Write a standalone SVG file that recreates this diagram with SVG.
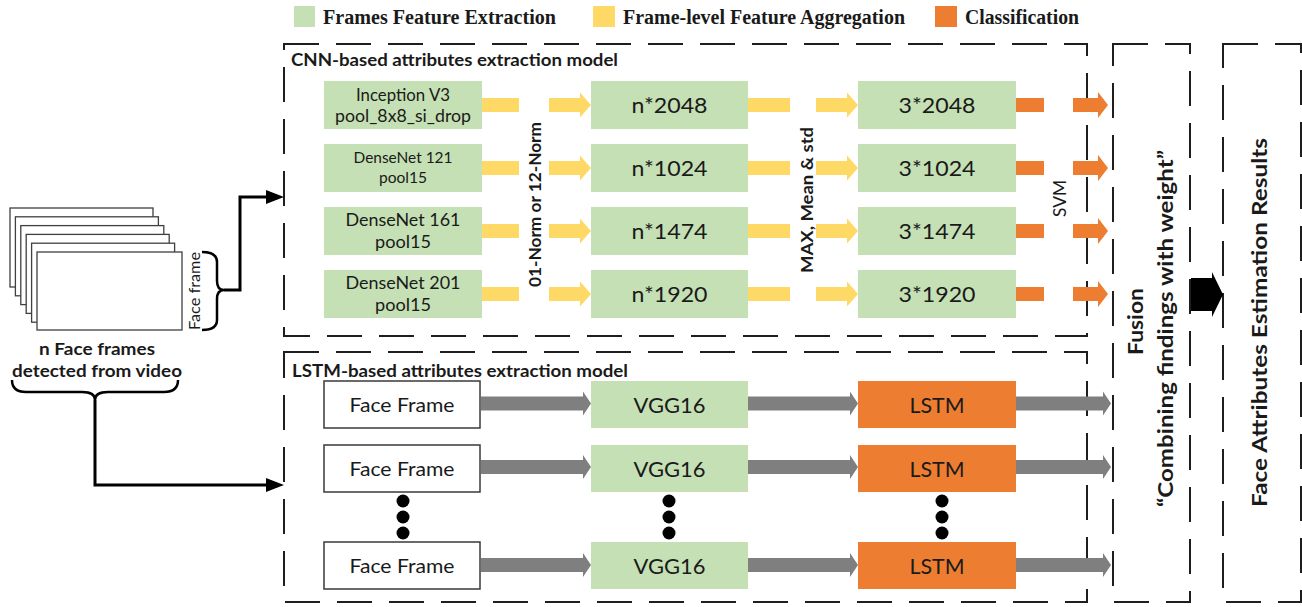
<svg xmlns="http://www.w3.org/2000/svg" width="1302" height="607" viewBox="0 0 1302 607">
<defs>
<style>
 .dash{fill:none;stroke:#1e1e1e;stroke-width:2;stroke-dasharray:35 17}
 .gbox{fill:#C5E0B4}
 .obox{fill:#ED7D31}
 .wbox{fill:#fff;stroke:#3a3a3a;stroke-width:1.5}
 .frm{fill:#fff;stroke:#404040;stroke-width:1.3}
 .yel{fill:#FFD966}
 .org{fill:#ED7D31}
 .gry{fill:#7F7F7F}
 .conn{fill:none;stroke:#000;stroke-width:3}
 .brace{fill:none;stroke:#000;stroke-width:2.5}
 .t{font-family:Lato,"Open Sans","Noto Sans",sans-serif;fill:#1a1a1a;text-anchor:middle}
 .b{font-weight:bold}
 .lg{font-family:"Liberation Serif","Times New Roman",serif;font-weight:bold;font-size:20.5px;fill:#1a1a1a}
 .dot{fill:#000}
</style>
<marker id="ah" markerUnits="userSpaceOnUse" markerWidth="18" markerHeight="14" refX="10" refY="7" orient="auto"><path d="M0,0 L18,7 L0,14 Z" fill="#000"/></marker>
<path id="ya" d="M0,-7 H31 V-12.5 L42,0 L31,12.5 V7 H0 Z"/>
<path id="oa" d="M0,-7 H25 V-13 L35,0 L25,13 V7 H0 Z"/>
<path id="ga" d="M0,-7 H102 V-12 L110,0 L102,12 V7 H0 Z"/>
<path id="ga2" d="M0,-7 H87 V-12 L95,0 L87,12 V7 H0 Z"/>
</defs>
<rect width="1302" height="607" fill="#fff"/>

<g id="legend">
 <rect x="294" y="6" width="21" height="21" class="gbox"/>
 <text x="323" y="24" class="lg" textLength="233" lengthAdjust="spacingAndGlyphs">Frames Feature Extraction</text>
 <rect x="593" y="6" width="22" height="21" class="yel"/>
 <text x="623" y="24" class="lg" textLength="282" lengthAdjust="spacingAndGlyphs">Frame-level Feature Aggregation</text>
 <rect x="935" y="6" width="22" height="21" class="org"/>
 <text x="965" y="24" class="lg" textLength="114" lengthAdjust="spacingAndGlyphs">Classification</text>
</g>

<g id="face-frames">
 <rect x="10" y="208" width="143" height="79" class="frm"/>
 <rect x="15.4" y="216.8" width="143" height="79" class="frm"/>
 <rect x="20.8" y="225.6" width="143" height="79" class="frm"/>
 <rect x="26.2" y="234.4" width="143" height="79" class="frm"/>
 <rect x="31.6" y="243.2" width="143" height="79" class="frm"/>
 <rect x="37" y="252" width="145" height="78" class="frm"/>
 <text transform="translate(200,291) rotate(-90)" class="t" font-size="14.5" textLength="78" lengthAdjust="spacingAndGlyphs">Face frame</text>
 <path class="brace" d="M202,252 Q217,252 217,262 V281 Q217,290 224,290 Q217,290 217,299 V320 Q217,330 202,330"/>
 <text x="97" y="355" class="t b" font-size="17.5" textLength="116" lengthAdjust="spacingAndGlyphs">n Face frames</text>
 <text x="97" y="377" class="t b" font-size="17.5" textLength="170" lengthAdjust="spacingAndGlyphs">detected from video</text>
 <path class="brace" d="M12,380 Q12,392 26,392 H82 Q95,392 95,400 Q95,392 108,392 H164 Q178,392 178,380"/>
</g>

<g id="cnn-model">
 <rect x="284" y="44" width="803" height="292" class="dash"/>
 <text x="291" y="66" class="t b" font-size="16.5" style="text-anchor:start" textLength="327" lengthAdjust="spacingAndGlyphs">CNN-based attributes extraction model</text>
</g>

<g id="cnn-backbones">
 <rect x="324" y="81" width="158" height="48" class="gbox"/>
 <text x="403" y="101" class="t" font-size="16.5" textLength="94" lengthAdjust="spacingAndGlyphs">Inception V3</text>
 <text x="403" y="122" class="t" font-size="16.5" textLength="136" lengthAdjust="spacingAndGlyphs">pool_8x8_si_drop</text>
 <rect x="324" y="144" width="158" height="48" class="gbox"/>
 <text x="403" y="163" class="t" font-size="15" textLength="99" lengthAdjust="spacingAndGlyphs">DenseNet 121</text>
 <text x="403" y="183" class="t" font-size="15" textLength="48" lengthAdjust="spacingAndGlyphs">pool15</text>
 <rect x="324" y="207" width="158" height="48" class="gbox"/>
 <text x="403" y="226" class="t" font-size="18" textLength="115" lengthAdjust="spacingAndGlyphs">DenseNet 161</text>
 <text x="403" y="248" class="t" font-size="18" textLength="56" lengthAdjust="spacingAndGlyphs">pool15</text>
 <rect x="324" y="270" width="158" height="48" class="gbox"/>
 <text x="403" y="289" class="t" font-size="18" textLength="115" lengthAdjust="spacingAndGlyphs">DenseNet 201</text>
 <text x="403" y="311" class="t" font-size="18" textLength="56" lengthAdjust="spacingAndGlyphs">pool15</text>
</g>

<g id="frame-features">
 <rect x="591" y="81" width="157" height="48" class="gbox"/>
 <text x="669.5" y="113" class="t" font-size="22" textLength="76" lengthAdjust="spacingAndGlyphs">n*2048</text>
 <rect x="591" y="144" width="157" height="48" class="gbox"/>
 <text x="669.5" y="176" class="t" font-size="22" textLength="76" lengthAdjust="spacingAndGlyphs">n*1024</text>
 <rect x="591" y="207" width="157" height="48" class="gbox"/>
 <text x="669.5" y="239" class="t" font-size="22" textLength="76" lengthAdjust="spacingAndGlyphs">n*1474</text>
 <rect x="591" y="270" width="157" height="48" class="gbox"/>
 <text x="669.5" y="302" class="t" font-size="22" textLength="76" lengthAdjust="spacingAndGlyphs">n*1920</text>
</g>

<g id="aggregated-features">
 <rect x="858" y="81" width="158" height="48" class="gbox"/>
 <text x="937" y="113" class="t" font-size="22" textLength="77" lengthAdjust="spacingAndGlyphs">3*2048</text>
 <rect x="858" y="144" width="158" height="48" class="gbox"/>
 <text x="937" y="176" class="t" font-size="22" textLength="77" lengthAdjust="spacingAndGlyphs">3*1024</text>
 <rect x="858" y="207" width="158" height="48" class="gbox"/>
 <text x="937" y="239" class="t" font-size="22" textLength="77" lengthAdjust="spacingAndGlyphs">3*1474</text>
 <rect x="858" y="270" width="158" height="48" class="gbox"/>
 <text x="937" y="302" class="t" font-size="22" textLength="77" lengthAdjust="spacingAndGlyphs">3*1920</text>
</g>

<g id="step-labels">
 <text transform="translate(541,204.5) rotate(-90)" class="t b" font-size="17" textLength="165" lengthAdjust="spacingAndGlyphs">01-Norm or 12-Norm</text>
 <text transform="translate(813,200) rotate(-90)" class="t b" font-size="17.5" textLength="146" lengthAdjust="spacingAndGlyphs">MAX, Mean &amp; std</text>
 <text transform="translate(1066,198.5) rotate(-90)" class="t" font-size="17" textLength="37" lengthAdjust="spacingAndGlyphs">SVM</text>
</g>

<g id="lstm-model">
 <rect x="284" y="352" width="803" height="250" class="dash"/>
 <text x="292" y="377" class="t b" font-size="16.5" style="text-anchor:start" textLength="336" lengthAdjust="spacingAndGlyphs">LSTM-based attributes extraction model</text>
</g>

<g id="lstm-face-frames">
 <rect x="324" y="381" width="156" height="47" class="wbox"/>
 <text x="402" y="411.5" class="t" font-size="20" textLength="105" lengthAdjust="spacingAndGlyphs">Face Frame</text>
 <rect x="324" y="445" width="156" height="47" class="wbox"/>
 <text x="402" y="475.5" class="t" font-size="20" textLength="105" lengthAdjust="spacingAndGlyphs">Face Frame</text>
 <rect x="324" y="542" width="156" height="47" class="wbox"/>
 <text x="402" y="572.5" class="t" font-size="20" textLength="105" lengthAdjust="spacingAndGlyphs">Face Frame</text>
 <circle cx="403" cy="501" r="6.5" class="dot"/>
 <circle cx="403" cy="517" r="6.5" class="dot"/>
 <circle cx="403" cy="533" r="6.5" class="dot"/>
</g>

<g id="vgg16">
 <rect x="591" y="381" width="157" height="47" class="gbox"/>
 <text x="669.5" y="412.5" class="t" font-size="22" textLength="72" lengthAdjust="spacingAndGlyphs">VGG16</text>
 <rect x="591" y="445" width="157" height="47" class="gbox"/>
 <text x="669.5" y="476.5" class="t" font-size="22" textLength="72" lengthAdjust="spacingAndGlyphs">VGG16</text>
 <rect x="591" y="542" width="157" height="47" class="gbox"/>
 <text x="669.5" y="573.5" class="t" font-size="22" textLength="72" lengthAdjust="spacingAndGlyphs">VGG16</text>
 <circle cx="669" cy="501" r="6.5" class="dot"/>
 <circle cx="669" cy="517" r="6.5" class="dot"/>
 <circle cx="669" cy="533" r="6.5" class="dot"/>
</g>

<g id="lstm">
 <rect x="858" y="381" width="158" height="47" class="obox"/>
 <text x="937" y="412.5" class="t" font-size="22" textLength="55" lengthAdjust="spacingAndGlyphs">LSTM</text>
 <rect x="858" y="445" width="158" height="47" class="obox"/>
 <text x="937" y="476.5" class="t" font-size="22" textLength="55" lengthAdjust="spacingAndGlyphs">LSTM</text>
 <rect x="858" y="542" width="158" height="47" class="obox"/>
 <text x="937" y="573.5" class="t" font-size="22" textLength="55" lengthAdjust="spacingAndGlyphs">LSTM</text>
 <circle cx="942" cy="501" r="6.5" class="dot"/>
 <circle cx="942" cy="517" r="6.5" class="dot"/>
 <circle cx="942" cy="533" r="6.5" class="dot"/>
</g>

<g id="fusion">
 <rect x="1113" y="44" width="77" height="558" class="dash"/>
 <text transform="translate(1143,321.5) rotate(-90)" class="t b" font-size="20" textLength="67" lengthAdjust="spacingAndGlyphs">Fusion</text>
 <text transform="translate(1173,328.5) rotate(-90)" class="t b" font-size="20" textLength="357" lengthAdjust="spacingAndGlyphs">“Combining findings with weight”</text>
</g>

<g id="results">
 <rect x="1223" y="44" width="78" height="558" class="dash"/>
 <text transform="translate(1267,322.5) rotate(-90)" class="t b" font-size="21" textLength="369" lengthAdjust="spacingAndGlyphs">Face Attributes Estimation Results</text>
</g>

<g id="connectors">
 <path class="conn" d="M224,290 H240 V197 H276" marker-end="url(#ah)"/>
 <path class="conn" d="M95,400 V485 H276" marker-end="url(#ah)"/>
 <rect x="482" y="98" width="37" height="14" class="yel"/><use href="#ya" x="549" y="105" class="yel"/>
 <rect x="748" y="98" width="42" height="14" class="yel"/><use href="#ya" x="816" y="105" class="yel"/>
 <rect x="1016" y="98" width="28" height="14" class="org"/><use href="#oa" x="1073" y="105" class="org"/>
 <rect x="482" y="161" width="37" height="14" class="yel"/><use href="#ya" x="549" y="168" class="yel"/>
 <rect x="748" y="161" width="42" height="14" class="yel"/><use href="#ya" x="816" y="168" class="yel"/>
 <rect x="1016" y="161" width="28" height="14" class="org"/><use href="#oa" x="1073" y="168" class="org"/>
 <rect x="482" y="224" width="37" height="14" class="yel"/><use href="#ya" x="549" y="231" class="yel"/>
 <rect x="748" y="224" width="42" height="14" class="yel"/><use href="#ya" x="816" y="231" class="yel"/>
 <rect x="1016" y="224" width="28" height="14" class="org"/><use href="#oa" x="1073" y="231" class="org"/>
 <rect x="482" y="287" width="37" height="14" class="yel"/><use href="#ya" x="549" y="294" class="yel"/>
 <rect x="748" y="287" width="42" height="14" class="yel"/><use href="#ya" x="816" y="294" class="yel"/>
 <rect x="1016" y="287" width="28" height="14" class="org"/><use href="#oa" x="1073" y="294" class="org"/>
 <use href="#ga" x="481" y="403.5" class="gry"/><use href="#ga" x="748" y="403.5" class="gry"/><use href="#ga2" x="1016" y="403.5" class="gry"/>
 <use href="#ga" x="481" y="467" class="gry"/><use href="#ga" x="748" y="467" class="gry"/><use href="#ga2" x="1016" y="467" class="gry"/>
 <use href="#ga" x="481" y="565" class="gry"/><use href="#ga" x="748" y="565" class="gry"/><use href="#ga2" x="1016" y="565" class="gry"/>
 <polygon points="1191,278 1212,278 1212,272 1223,294.5 1212,317 1212,311 1191,311" fill="#000"/>
</g>
</svg>
